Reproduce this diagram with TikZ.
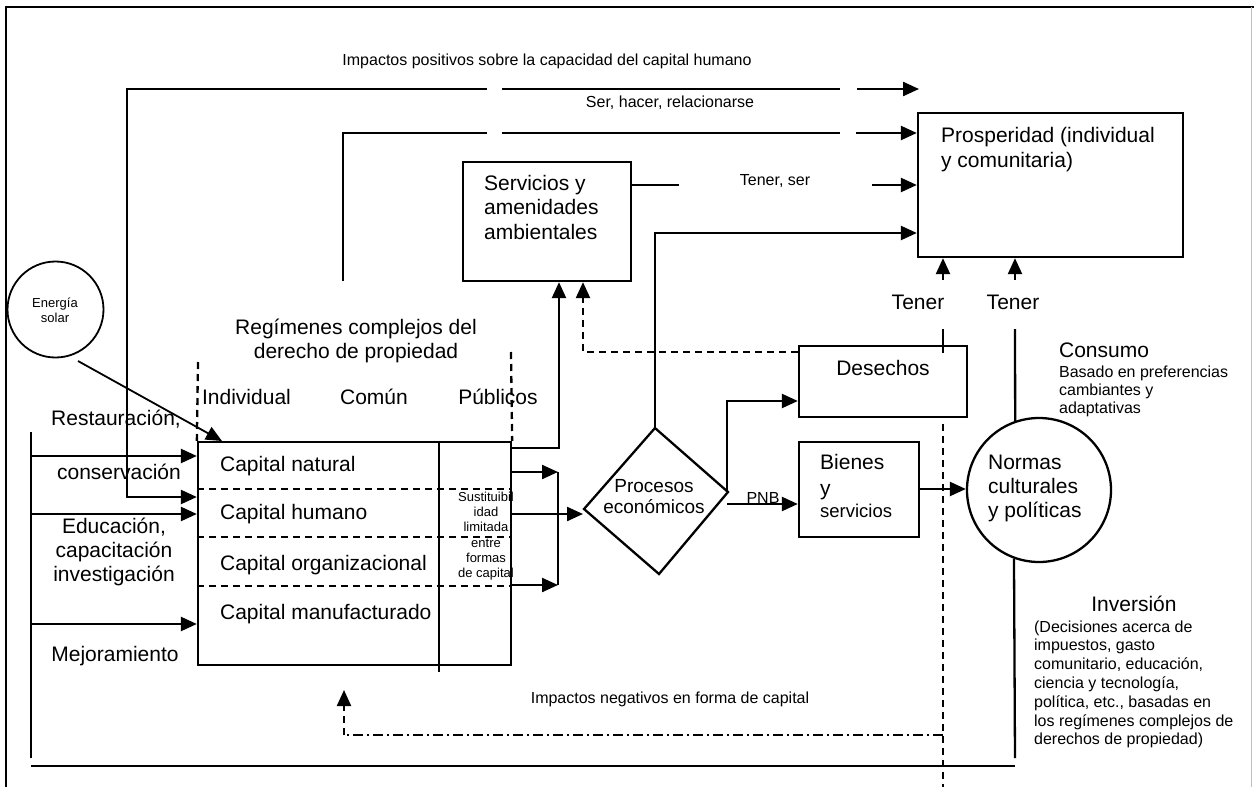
\documentclass[tikz,border=0pt]{standalone}
\usepackage{fontspec}
\setmainfont{Liberation Sans}
\usetikzlibrary{arrows.meta}

\newcommand{\fsBig}{\fontsize{21}{24.5}\selectfont}
\newcommand{\fsSmall}{\fontsize{16}{19}\selectfont}

\begin{document}
\begin{tikzpicture}[x=1pt,y=-1pt,line width=2.3pt,
  every node/.style={inner sep=0pt},
  arr/.style={-{Triangle[length=16pt,width=14pt]}},
  box/.style={draw,rectangle,line width=2.3pt},
  lbl/.style={execute at begin node=\strut,execute at end node=\strut},
  big/.style={lbl,font=\fsBig},
  sml/.style={lbl,font=\fsSmall},
  capdash/.style={dash pattern=on 7pt off 5pt},
  dashdot/.style={dash pattern=on 10pt off 4pt on 2pt off 4pt}]

\useasboundingbox (0,0) rectangle (1254,787);

% frame
\draw (6,787) -- (6,7) -- (1254,7);
\draw[line width=1pt,black!25] (1251,7) -- (1251,787);

% boxes and circles
\node[box,minimum width=168pt,minimum height=119pt] (serv) at (547,221.5) {};
\node[box,minimum width=265pt,minimum height=144pt] (prosp) at (1050.5,185) {};
\node[box,minimum width=168pt,minimum height=71pt] (des) at (883,381.5) {};
\node[box,minimum width=120pt,minimum height=95pt] (bien) at (859,489.5) {};
\node[box,minimum width=313pt,minimum height=223pt] (cap) at (354.5,553.5) {};
\node[draw,circle,minimum size=144pt] (normas) at (1039,490) {};
\node[draw,circle,line width=1.8pt,minimum size=96pt] (sol) at (55.5,309.5) {};

% economic processes diamond
\coordinate (proc-n) at (655,428);
\coordinate (proc-e) at (728,492);
\coordinate (proc-s) at (659,574);
\coordinate (proc-w) at (584,509);
\draw (proc-n) -- (proc-e) -- (proc-s) -- (proc-w) -- cycle;

% texts
\node[sml] (t-impos) at (547,61.5) {Impactos positivos sobre la capacidad del capital humano};
\node[sml] (t-ser) at (670,103.5) {Ser, hacer, relacionarse};
\node[sml] (t-tenser) at (775,181.5) {Tener, ser};
\node[big,align=left,anchor=west] (t-serv) at (483,211) {Servicios y\\amenidades\\ambientales};
\node[lbl,font=\fontsize{21}{25.5}\selectfont,align=left,anchor=west] (t-prosp) at (940,151) {Prosperidad (individual\\y comunitaria)};
\node[big] (t-tener1) at (918,305) {Tener};
\node[big] (t-tener2) at (1013,305) {Tener};
\node[big] (t-des) at (883,371) {Desechos};
\node[lbl,font=\fontsize{21}{26}\selectfont,align=left,anchor=west] (t-bien) at (819,479) {Bienes\\y};
\node[lbl,font=\fontsize{18.5}{21}\selectfont,anchor=west] (t-bserv) at (819,513.5) {servicios};
\node[sml] (t-pnb) at (763,499.5) {PNB};
\node[lbl,font=\fontsize{19}{21}\selectfont,align=center] (t-proc) at (654,499.5) {Procesos\\económicos};
\node[lbl,font=\fontsize{21}{24}\selectfont,align=left,anchor=west] (t-normas) at (987,490) {Normas\\culturales\\y políticas};
\node[big,anchor=west] (t-consumo) at (1058,353) {Consumo};
\node[lbl,font=\fontsize{16}{18}\selectfont,align=left,anchor=west] (t-basado) at (1058,392.5) {Basado en preferencias\\cambiantes y\\adaptativas};
\node[big] (t-inv) at (1134,607) {Inversión};
\node[lbl,font=\fontsize{16}{18.8}\selectfont,align=left,anchor=west] (t-decis) at (1033,685.5)
  {(Decisiones acerca de\\impuestos, gasto\\comunitario, educación,\\ciencia y tecnología,\\política, etc., basadas en\\los regímenes complejos de\\derechos de propiedad)};
\node[sml] (t-neg) at (670,699.5) {Impactos negativos en forma de capital};
\node[lbl,font=\fontsize{21}{24}\selectfont,align=center] (t-reg) at (356,342) {Regímenes complejos del\\derecho de propiedad};
\node[big] (t-indiv) at (246.5,400) {Individual};
\node[big] (t-comun) at (374,400) {Común};
\node[big] (t-publ) at (498,400) {Públicos};
\node[big,anchor=west] (t-cn) at (219,467) {Capital natural};
\node[big,anchor=west] (t-ch) at (219,515) {Capital humano};
\node[big,anchor=west] (t-co) at (219,566) {Capital organizacional};
\node[big,anchor=west] (t-cm) at (219,615) {Capital manufacturado};
\node[lbl,font=\fontsize{13}{15.2}\selectfont,align=center] (t-sust) at (486,537) {Sustituibil\\idad\\limitada\\entre\\formas\\de capital};
\node[lbl,font=\fontsize{13}{15}\selectfont,align=center] (t-sol) at (55,312) {Energía\\solar};
\node[big] (t-rest) at (116,421) {Restauración,};
\node[big] (t-cons) at (119,475) {conservación};
\node[lbl,font=\fontsize{21}{24}\selectfont,align=center] (t-edu) at (114,553) {Educación,\\capacitación\\investigación};
\node[big] (t-mej) at (115,657) {Mejoramiento};

% feedback to human capital
\coordinate (ip-a) at (487,89);
\coordinate (ip-b) at (502,89);
\coordinate (ip-c) at (840,89);
\coordinate (ip-d) at (857,89);
\coordinate (ip-end) at (919,89);
\draw[arr] (ip-a) -- (127,89) |- (cap.west |- 0,497);
\draw (ip-b) -- (ip-c);
\draw[arr] (ip-d) -- (ip-end);

% being, doing, relating
\coordinate (sh-start) at (343,281);
\draw (sh-start) |- (487,133);
\draw (502,133) -- (840,133);
\draw[arr] (856,133) -- (prosp.west |- 0,133);

% having, being
\draw (serv.east |- 0,185) -- (679,185);
\draw[arr] (872,185) -- (prosp.west |- 0,185);

% economic processes to prosperity
\draw[arr] (proc-n) |- (prosp.west |- 0,233);

% capital to environmental services
\draw[arr] (cap.east |- 0,448) -| (serv.south -| 559,0);
\draw[arr,capdash] (des.west |- 0,352) -| (serv.south -| 583,0);

% processes to waste and goods
\draw[arr] (727,492) |- (des.west |- 0,401);
\coordinate (pnb-s) at (727,504);
\draw[arr] (pnb-s) -- (bien.west |- 0,504);
\draw[arr] (bien.east |- 0,489) -- (normas.west |- 0,489);

% having
\draw[arr] (943,280) -- (prosp.south -| 943,0);
\draw[arr] (1015,280) -- (prosp.south -| 1015,0);
\draw (943,329) -- (943,353);
\draw[capdash] (943,424) -- (943,787);
\draw (1015,329) -- (normas.109.4);
\draw (normas.250.6) -- (1015,758);

% investment loop
\draw (31,766) -- (1015,766);
\draw (31,432) -- (31,758);
\draw[arr] (31,456) -- (cap.west |- 0,456);
\draw[arr] (31,514) -- (cap.west |- 0,514);
\draw[arr] (31,624) -- (cap.west |- 0,624);

% solar energy
\coordinate (sol-out) at (78,361);
\coordinate (sol-tip) at (222,441);
\draw[arr,line width=1.8pt] (sol-out) -- (sol-tip);

% capital outputs
\draw[arr] (cap.east |- 0,472) -- (558,472);
\draw[arr] (cap.east |- 0,585) -- (558,585);
\draw (558,472) -- (558,585);
\draw[arr] (cap.east |- 0,514) -- (583,514);

% property regime columns
\draw[capdash] (198,362) -- (cap.north west);
\draw[capdash] (511,352) -- (cap.north east);
\draw[capdash] (cap.west |- 0,489) -- (cap.east |- 0,489);
\draw[capdash] (cap.west |- 0,537) -- (cap.east |- 0,537);
\draw[capdash] (cap.west |- 0,586) -- (cap.east |- 0,586);
\draw (cap.north -| 439,0) -- (439,672);

% negative impacts
\coordinate (neg-r) at (943,735);
\coordinate (neg-l) at (344,735);
\coordinate (neg-tip) at (344,690);
\draw[dashdot] (neg-r) -- (neg-l);
\draw[arr,capdash] (neg-l) -- (neg-tip);

\end{tikzpicture}
\end{document}
